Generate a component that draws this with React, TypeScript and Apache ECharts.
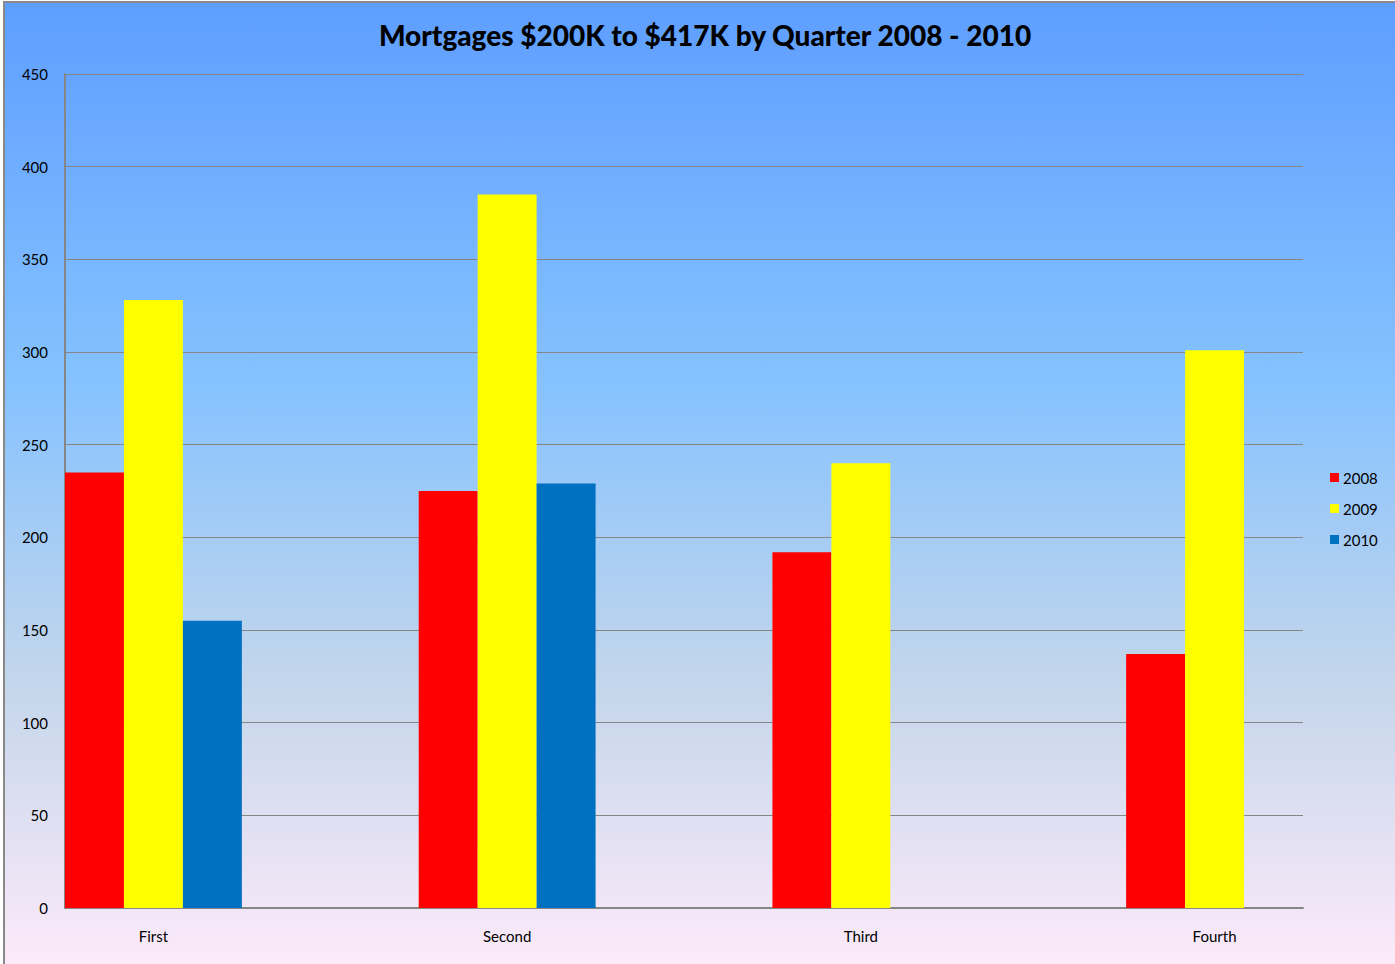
import React, { useEffect, useRef } from "react";
import * as echarts from "echarts";

const quarters = ["First", "Second", "Third", "Fourth"];
const years = ["2008", "2009", "2010"];
const values2008 = [235, 225, 192, 137];
const values2009 = [328, 385, 240, 301];
const values2010: (number | null)[] = [155, 229, null, null];
const yTicks = { min: 0, max: 450, interval: 50 };
const colors = ["#ff0000", "#ffff00", "#0070c0"];

// Excel lays groups out with a 100% gap; use an empty slot between quarters.
function spread<T>(arr: T[], filler: T): T[] {
  const out: T[] = [];
  arr.forEach((v, i) => {
    out.push(v);
    if (i < arr.length - 1) out.push(filler);
  });
  return out;
}

export default function App() {
  const ref = useRef<HTMLDivElement>(null);
  useEffect(() => {
    if (!ref.current) return;
    const chart = echarts.init(ref.current, null, { renderer: "svg" });
    const cats = spread(quarters, "");
    const seriesData = [values2008, values2009, values2010];
    chart.setOption({
      animation: false,
      backgroundColor: "#ffffff",
      graphic: [
        {
          type: "rect",
          z: -10,
          shape: { x: 4, y: 2, width: 1400, height: 975 },
          style: {
            fill: new echarts.graphic.LinearGradient(0, 0, 0, 1, [
              { offset: 0, color: "#5e9eff" },
              { offset: 0.39, color: "#85c2ff" },
              { offset: 0.7, color: "#c4d6eb" },
              { offset: 1, color: "#ffebfa" },
            ]),
            stroke: "#898989",
            lineWidth: 2,
          },
        },
      ],
      title: {
        text: "Mortgages $200K to $417K by Quarter 2008 - 2010",
        left: 700,
        textAlign: "center",
        top: 16,
        textStyle: {
          fontFamily: "Lato",
          fontWeight: 900,
          fontSize: 28,
          color: "#000000",
        },
      },
      legend: {
        orient: "vertical",
        left: 1325,
        top: 465,
        itemWidth: 9,
        itemHeight: 9,
        itemGap: 16,
        icon: "rect",
        data: years,
        textStyle: { fontFamily: "Lato", fontSize: 15, color: "#000000", padding: [0, 0, 0, -1] },
      },
      grid: { left: 65, right: 92, top: 74, bottom: 56 },
      xAxis: {
        type: "category",
        data: cats,
        boundaryGap: true,
        axisLine: { show: true, lineStyle: { color: "#868686", width: 2 } },
        axisTick: { show: false },
        axisLabel: {
          interval: 0,
          margin: 20,
          fontFamily: "Lato",
          fontSize: 15,
          color: "#000000",
        },
        splitLine: { show: false },
      },
      yAxis: {
        type: "value",
        min: yTicks.min,
        max: yTicks.max,
        interval: yTicks.interval,
        axisLine: { show: true, lineStyle: { color: "#868686", width: 2 } },
        axisTick: { show: false },
        axisLabel: {
          margin: 17,
          fontFamily: "Lato",
          fontSize: 15,
          color: "#000000",
        },
        splitLine: { show: true, lineStyle: { color: "#868686", width: 1 } },
      },
      series: years.map((y, i) => ({
        name: y,
        type: "bar",
        data: spread(seriesData[i] as (number | null)[], null),
        barGap: "0%",
        barCategoryGap: "0%",
        itemStyle: { color: colors[i] },
      })),
    });
    return () => chart.dispose();
  }, []);
  return (
    <div
      ref={ref}
      style={{ position: "absolute", left: 0, top: 0, width: 1395, height: 964 }}
    />
  );
}
